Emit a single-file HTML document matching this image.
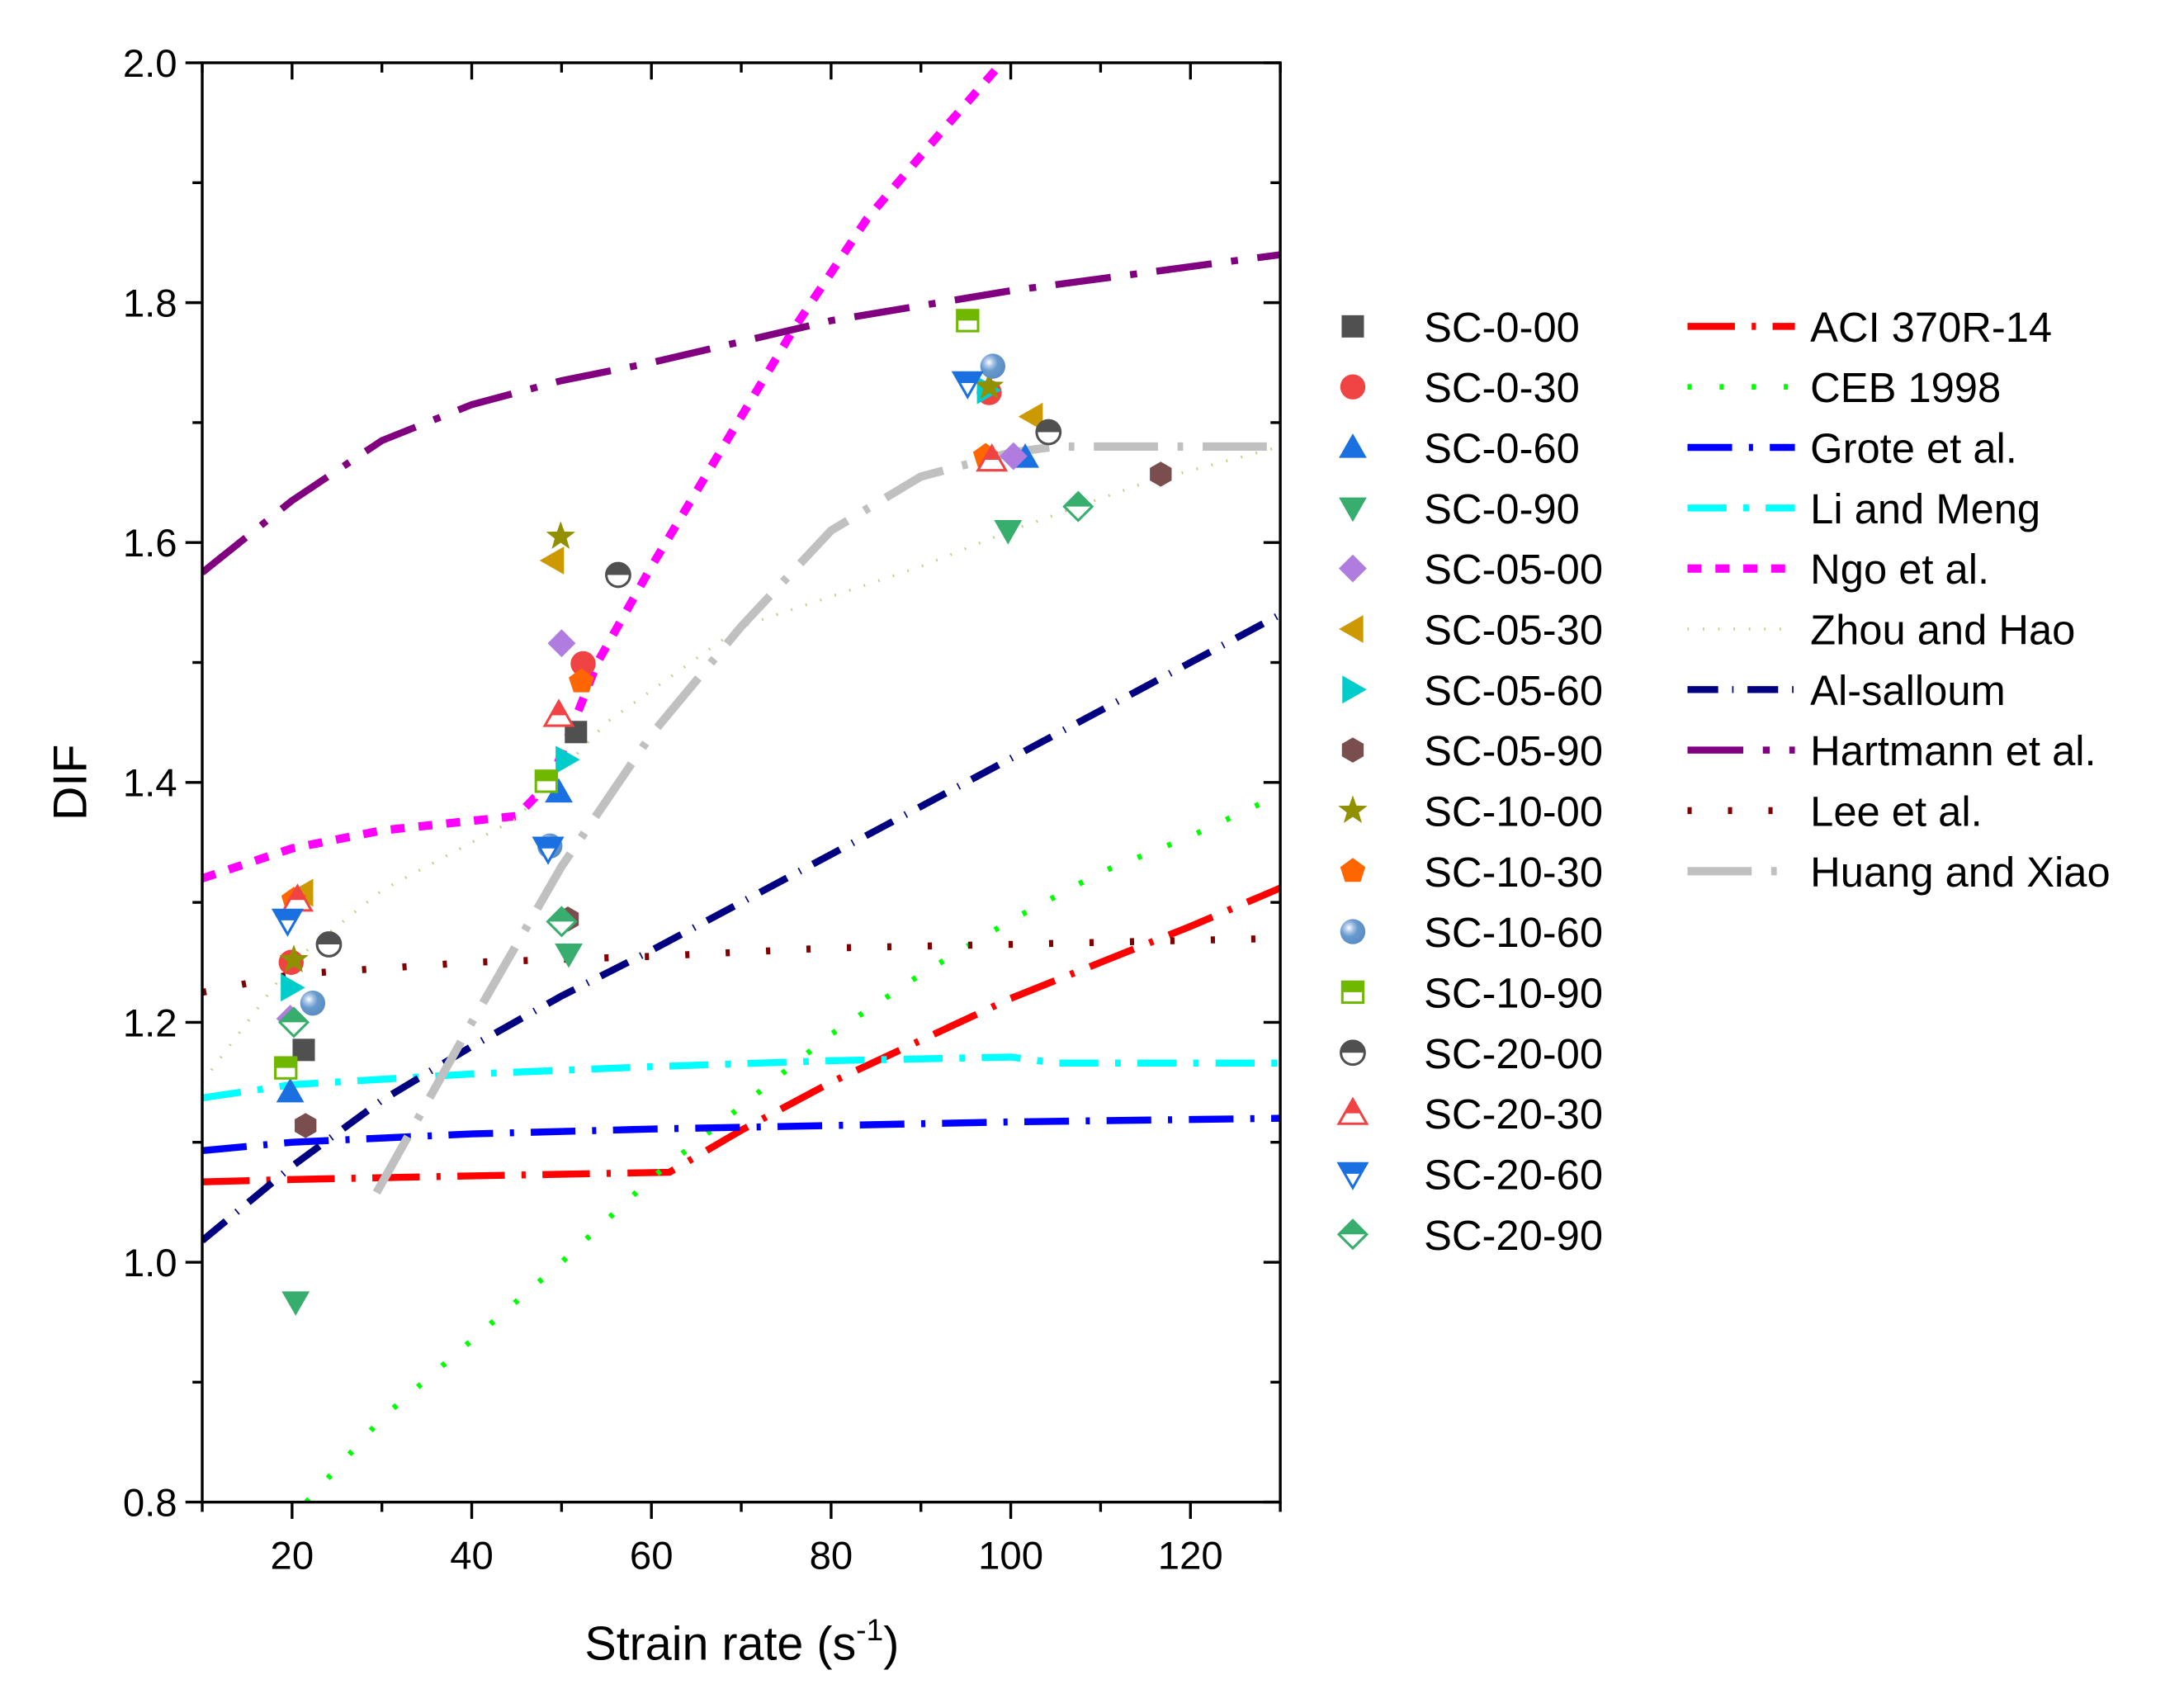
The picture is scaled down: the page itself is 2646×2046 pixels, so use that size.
<!DOCTYPE html>
<html><head><meta charset="utf-8"><style>
html,body{margin:0;padding:0;background:#fff}
svg{display:block}
text{font-family:"Liberation Sans",Arial,sans-serif;fill:#000}
</style></head><body>
<svg id="chart" width="2646" height="2046" viewBox="0 0 1566 1211" preserveAspectRatio="none" xmlns="http://www.w3.org/2000/svg">
<defs>
<clipPath id="plotclip"><rect x="145" y="45" width="773" height="1032"/></clipPath>
<radialGradient id="sph" cx="0.35" cy="0.35" r="0.7"><stop offset="0" stop-color="#fff"/><stop offset="0.25" stop-color="#a8c4e6"/><stop offset="0.5" stop-color="#6699cc"/><stop offset="1" stop-color="#5a8cc4"/></radialGradient>
</defs>
<g id="lines" clip-path="url(#plotclip)"></g>
<g id="points"></g>
<g id="axes"></g>
<g id="legend"></g>
</svg>
<script>
// ---- data ----
const xTicks=[20,40,60,80,100,120];
const yTicks=[0.8,1.0,1.2,1.4,1.6,1.8,2.0];
const yTickLabels=["0.8","1.0","1.2","1.4","1.6","1.8","2.0"];
const aciX=[10,20,40,62,70,80,90,100,110,120,130];
const aciY=[1.067,1.069,1.072,1.075,1.11,1.15,1.185,1.22,1.25,1.28,1.312];
const cebX=[21.6,30,40,50,60,70,80,90,100,110,120,130];
const cebY=[0.80,0.87,0.935,1.0,1.07,1.13,1.19,1.24,1.285,1.325,1.355,1.39];
const groteX=[10,20,40,60,80,100,130];
const groteY=[1.093,1.10,1.107,1.111,1.114,1.117,1.12];
const liX=[10,20,40,60,80,100,105,130];
const liY=[1.137,1.148,1.157,1.163,1.168,1.171,1.166,1.166];
const ngoX=[10,20,30,45,48.8,54,60,68,76,84,92,99];
const ngoY=[1.32,1.345,1.36,1.372,1.401,1.50,1.58,1.68,1.78,1.87,1.94,2.0];
const zhouX=[10,20,30,45,55,70,90,100,115,130];
const zhouY=[1.15,1.25,1.31,1.37,1.45,1.53,1.58,1.61,1.65,1.68];
const alsX=[10,20,30,40,50,60,80,100,120,130];
const alsY=[1.018,1.08,1.135,1.18,1.222,1.26,1.34,1.42,1.50,1.54];
const hartX=[10,20,30,40,50,60,80,100,130];
const hartY=[1.575,1.635,1.685,1.715,1.735,1.75,1.785,1.81,1.84];
const leeX=[10,20,40,60,80,100,130];
const leeY=[1.225,1.24,1.25,1.255,1.262,1.265,1.27];
const huangX=[29.4,40,50,60,70,80,90,100,105,130];
const huangY=[1.058,1.2,1.33,1.44,1.53,1.61,1.655,1.675,1.68,1.68];
const ptNames=["SC-0-00","SC-0-30","SC-0-60","SC-0-90","SC-05-00","SC-05-30","SC-05-60","SC-05-90","SC-10-00","SC-10-30","SC-10-60","SC-10-90","SC-20-00","SC-20-30","SC-20-60","SC-20-90"];
const ptX=[[21.3,51.6],[19.9,52.4,97.6],[19.8,49.7,101.6],[20.4,50.8,99.7],[19.8,50,100.3],[21.2,49.1,102.4],[19.9,50.5,97.4],[21.5,50.7,116.7],[20.2,49.9,97.6],[20.2,52.2,97.2],[22.3,48.7,98],[19.3,48.3,95.2],[24.1,56.3,104.2],[20.6,49.7,97.9],[19.5,48.5,95.2],[20.2,50,107.5]];
const ptY=[[1.177,1.442],[1.25,1.499,1.725],[1.142,1.392,1.671],[0.967,1.257,1.61],[1.203,1.516,1.672],[1.308,1.585,1.705],[1.229,1.419,1.727],[1.114,1.286,1.657],[1.252,1.605,1.73],[1.302,1.484,1.672],[1.216,1.347,1.747],[1.162,1.401,1.785],[1.265,1.573,1.692],[1.302,1.456,1.669],[1.285,1.345,1.733],[1.2,1.284,1.63]];
// ---- styling ----
const NS="http://www.w3.org/2000/svg";
const X0=145,X1=918,Y0=1077,Y1=45;
const sx=v=>X0+(v-10)/120*(X1-X0);
const sy=v=>Y0-(v-0.8)/1.2*(Y0-Y1);
function mk(tag,attrs,parent){const e=document.createElementNS(NS,tag);for(const k in attrs)e.setAttribute(k,attrs[k]);parent.appendChild(e);return e;}
const lineDefs=[
 {n:"ACI 370R-14",x:aciX,y:aciY,c:"#ff0000",w:5,d:"34,12,3,12"},
 {n:"CEB 1998",x:cebX,y:cebY,c:"#00ff00",w:4,d:"3,20"},
 {n:"Grote et al.",x:groteX,y:groteY,c:"#0000ff",w:5,d:"32,12,3,12"},
 {n:"Li and Meng",x:liX,y:liY,c:"#00ffff",w:5,d:"28,12,4,12"},
 {n:"Ngo et al.",x:ngoX,y:ngoY,c:"#ff00ff",w:6,d:"10,10"},
 {n:"Zhou and Hao",x:zhouX,y:zhouY,c:"#c8c880",w:2,d:"1,10"},
 {n:"Al-salloum",x:alsX,y:alsY,c:"#000080",w:5,d:"22,10,1,10"},
 {n:"Hartmann et al.",x:hartX,y:hartY,c:"#800080",w:5,d:"40,14,5,14"},
 {n:"Lee et al.",x:leeX,y:leeY,c:"#800000",w:5,d:"3,26"},
 {n:"Huang and Xiao",x:huangX,y:huangY,c:"#c0c0c0",w:6,d:"46,14,4,14"}
];
const lg=document.getElementById('lines');
lineDefs.forEach((L,i)=>{
 const pts=L.x.map((v,j)=>sx(v).toFixed(1)+","+sy(L.y[j]).toFixed(1)).join(" ");
 const p=mk('polyline',{points:pts,fill:"none",stroke:L.c,"stroke-width":L.w,"stroke-dasharray":L.d},lg);
 
 
});
const mDefs=[
 {t:"square",c:"#505050"},{t:"circle",c:"#f04444"},{t:"up",c:"#1a70e0"},{t:"down",c:"#38ae6e"},
 {t:"diamond",c:"#b07ce0"},{t:"left",c:"#cc9900"},{t:"right",c:"#00cccc"},{t:"hex",c:"#7a4e4e"},
 {t:"star",c:"#909000"},{t:"pent",c:"#ff6600"},{t:"sphere",c:"#6699cc"},{t:"hsquare",c:"#70b800"},
 {t:"hcircle",c:"#505050"},{t:"hup",c:"#f04444"},{t:"hdown",c:"#1a70e0"},{t:"hdiamond",c:"#38ae6e"}
];
function poly(pts){return pts.map(p=>p[0].toFixed(1)+","+p[1].toFixed(1)).join(" ");}
function shapePts(t,x,y){const r=10;
 switch(t){
 case "up":case "hup":return [[x,y-r],[x+r,y+r*0.75],[x-r,y+r*0.75]];
 case "down":case "hdown":return [[x-r,y-r*0.75],[x+r,y-r*0.75],[x,y+r]];
 case "left":return [[x-r,y],[x+r*0.75,y-r],[x+r*0.75,y+r]];
 case "right":return [[x+r,y],[x-r*0.75,y-r],[x-r*0.75,y+r]];
 case "diamond":case "hdiamond":return [[x,y-r],[x+r,y],[x,y+r],[x-r,y]];
 case "hex":{const a=[];for(let k=0;k<6;k++){const an=Math.PI/2+k*Math.PI/3;a.push([x+9*Math.cos(an),y-9*Math.sin(an)]);}return a;}
 case "pent":{const a=[];for(let k=0;k<5;k++){const an=Math.PI/2+k*2*Math.PI/5;a.push([x+9.5*Math.cos(an),y-9.5*Math.sin(an)]);}return a;}
 case "star":{const a=[];for(let k=0;k<10;k++){const an=Math.PI/2+k*Math.PI/5;const rr=k%2?4.5:11;a.push([x+rr*Math.cos(an),y-rr*Math.sin(an)]);}return a;}
 }}
let cid=0;
function drawMarker(t,c,x,y,parent){
 const g=mk('g',{},parent);
 if(t==="square"){mk('rect',{x:x-8,y:y-8,width:16,height:16,fill:c},g);}
 else if(t==="circle"){mk('circle',{cx:x,cy:y,r:9,fill:c},g);}
 else if(t==="sphere"){mk('circle',{cx:x,cy:y,r:9,fill:"url(#sph)"},g);}
 else if(t==="hsquare"||t==="hcircle"||t==="hup"||t==="hdown"||t==="hdiamond"){
  const id="hc"+(cid++);
  const cp=mk('clipPath',{id:id},g);mk('rect',{x:x-15,y:y-15,width:30,height:15},cp);
  let el1;
  if(t==="hsquare"){el1={x:x-7.5,y:y-7.5,width:15,height:15};mk('rect',Object.assign({fill:"#fff",stroke:c,"stroke-width":1.8},el1),g);mk('rect',Object.assign({fill:c,"clip-path":"url(#"+id+")"},el1),g);}
  else if(t==="hcircle"){mk('circle',{cx:x,cy:y,r:8.5,fill:"#fff",stroke:c,"stroke-width":1.8},g);mk('circle',{cx:x,cy:y,r:8.5,fill:c,"clip-path":"url(#"+id+")"},g);}
  else{const p=poly(shapePts(t,x,y));mk('polygon',{points:p,fill:"#fff",stroke:c,"stroke-width":1.8},g);mk('polygon',{points:p,fill:c,"clip-path":"url(#"+id+")"},g);}
 }
 else{mk('polygon',{points:poly(shapePts(t,x,y)),fill:c},g);}
 return g;
}
const pg=document.getElementById('points');
ptNames.forEach((n,i)=>{
 ptX[i].forEach((v,j)=>{
  const g=drawMarker(mDefs[i].t,mDefs[i].c,sx(v),sy(ptY[i][j]),pg);
  
  
 });
});
// axes
const ax=document.getElementById('axes');
mk('rect',{x:X0,y:Y1,width:X1-X0,height:Y0-Y1,fill:"none",stroke:"#000","stroke-width":2},ax);
for(let v=10;v<=130;v+=10){const px=sx(v);const maj=(v%20===0);
 mk('line',{x1:px,y1:Y0,x2:px,y2:Y0+(maj?12:7),stroke:"#000","stroke-width":2},ax);
 mk('line',{x1:px,y1:Y1,x2:px,y2:Y1+(maj?12:7),stroke:"#000","stroke-width":2},ax);}
for(let k=0;k<=12;k++){const v=0.8+k*0.1;const py=sy(v);const maj=(k%2===0);
 mk('line',{x1:X0,y1:py,x2:X0-(maj?12:7),y2:py,stroke:"#000","stroke-width":2},ax);
 mk('line',{x1:X1,y1:py,x2:X1-(maj?12:7),y2:py,stroke:"#000","stroke-width":2},ax);}
xTicks.forEach(v=>{const t=mk('text',{x:sx(v),y:Y0+48,"font-size":28,"text-anchor":"middle"},ax);t.textContent=String(v);
 });
yTicks.forEach((v,i)=>{const t=mk('text',{x:X0-18,y:sy(v)+10,"font-size":28,"text-anchor":"end"},ax);t.textContent=yTickLabels[i];
 });
const xt=mk('text',{x:532,y:1190,"font-size":34,"text-anchor":"middle"},ax);
xt.innerHTML='Strain rate (s<tspan dy="-14" font-size="22">-1</tspan><tspan dy="14">)</tspan>';

const yt=mk('text',{x:62,y:561,"font-size":34,"text-anchor":"middle",transform:"rotate(-90 62 561)"},ax);
yt.textContent="DIF";
// legend
const lgd=document.getElementById('legend');
const rowY=i=>234+i*43.4;
ptNames.forEach((n,i)=>{const g=mk('g',{},lgd);
 
 drawMarker(mDefs[i].t,mDefs[i].c,970,rowY(i),g);
 const t=mk('text',{x:1021,y:rowY(i)+11,"font-size":30},g);t.textContent=n;});
lineDefs.forEach((L,i)=>{const g=mk('g',{},lgd);
 
 mk('line',{x1:1210,y1:rowY(i),x2:1287,y2:rowY(i),stroke:L.c,"stroke-width":L.w,"stroke-dasharray":L.d},g);
 const t=mk('text',{x:1298,y:rowY(i)+11,"font-size":30},g);t.textContent=L.n;});
</script>
</body></html>
